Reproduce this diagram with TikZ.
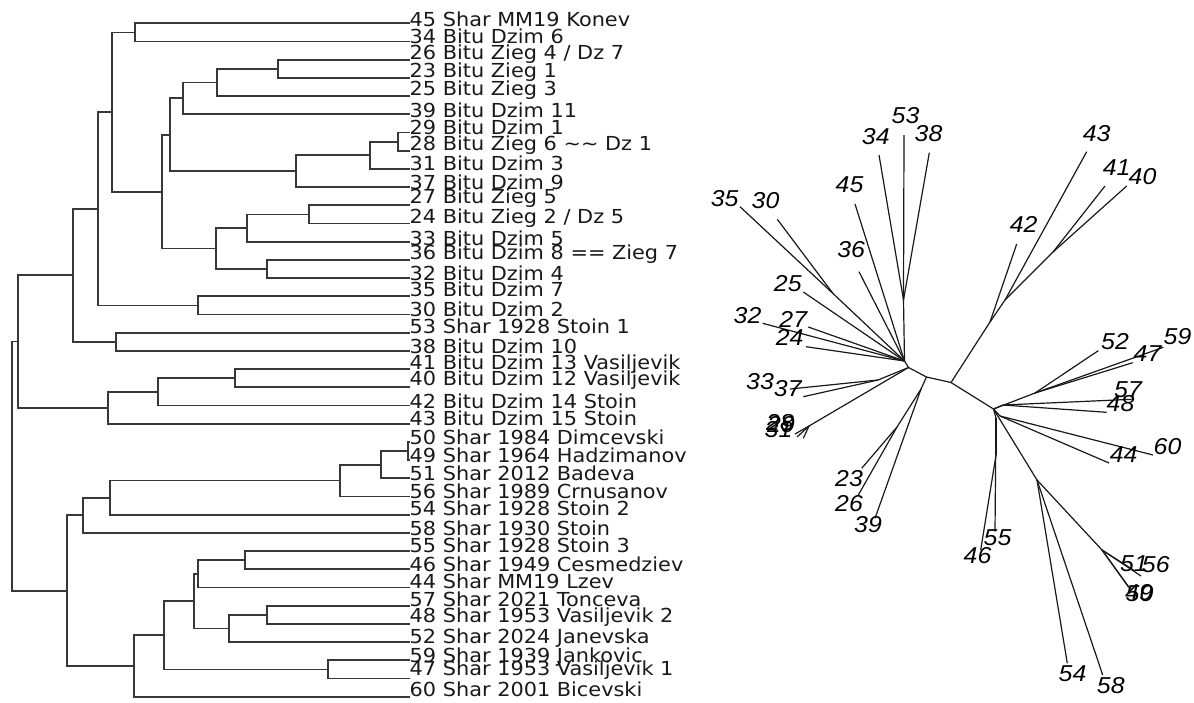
\documentclass[tikz,border=0pt]{standalone}
\usepackage{fontspec}
\usetikzlibrary{calc}
\newfontfamily\labfont[FakeStretch=1.08]{DejaVu Sans}
\newfontfamily\tipfont[FakeStretch=1.08]{Liberation Sans}
\newcommand\dendjoin[4]{%
  \path let \p1=(#3), \p2=(#4) in (#2pt,{(\y1+\y2)/2}) coordinate (#1);
  \draw[dend] (#3) -| (#1) |- (#4);}
\tikzset{
  dend/.style={draw=black!78, line width=1.8pt},
  utree/.style={draw=black!90, line width=1.2pt},
  leaflab/.style={anchor=base west, inner sep=0pt, text=black!90, font=\labfont\fontsize{19.3}{20}\selectfont},
  tiplab/.style={inner sep=0pt, text=black, font=\tipfont\itshape\fontsize{23}{25}\selectfont}
}
\begin{document}
\begin{tikzpicture}[x=1pt,y=-1pt]
\useasboundingbox (0,0) rectangle (1194,702);
% ---------------- dendrogram ----------------
\foreach \i in {1,...,38} { \coordinate (l\i) at (410,{23.3+(\i-1)*18.2}); }
\dendjoin{n1}{135}{l1}{l2}
\dendjoin{n2}{277.7}{l3}{l4}
\dendjoin{n3}{216.7}{n2}{l5}
\dendjoin{n4}{183.3}{n3}{l6}
\dendjoin{n5}{398.3}{l7}{l8}
\dendjoin{n6}{370}{n5}{l9}
\dendjoin{n7}{296}{n6}{l10}
\dendjoin{n8}{170}{n4}{n7}
\dendjoin{n9}{309}{l11}{l12}
\dendjoin{n10}{247.3}{n9}{l13}
\dendjoin{n11}{266.7}{l14}{l15}
\dendjoin{n12}{215.7}{n10}{n11}
\dendjoin{n13}{162.3}{n8}{n12}
\dendjoin{n14}{112.3}{n1}{n13}
\dendjoin{n15}{198.3}{l16}{l17}
\dendjoin{n16}{98.3}{n14}{n15}
\dendjoin{n17}{115.7}{l18}{l19}
\dendjoin{n18}{73.3}{n16}{n17}
\dendjoin{n19}{235}{l20}{l21}
\dendjoin{n20}{157.7}{n19}{l22}
\dendjoin{n21}{107.7}{n20}{l23}
\dendjoin{n22}{18.3}{n18}{n21}
\dendjoin{n23}{408.3}{l24}{l25}
\dendjoin{n24}{381}{n23}{l26}
\dendjoin{n25}{340}{n24}{l27}
\dendjoin{n26}{110}{n25}{l28}
\dendjoin{n27}{83.3}{n26}{l29}
\dendjoin{n28}{245}{l30}{l31}
\dendjoin{n29}{198.3}{n28}{l32}
\dendjoin{n30}{266.7}{l33}{l34}
\dendjoin{n31}{229}{n30}{l35}
\dendjoin{n32}{194.3}{n29}{n31}
\dendjoin{n33}{327.7}{l36}{l37}
\dendjoin{n34}{164.3}{n32}{n33}
\dendjoin{n35}{134.3}{n34}{l38}
\dendjoin{n36}{66.7}{n27}{n35}
\dendjoin{root}{11.7}{n22}{n36}
\foreach \t/\y [count=\k] in {
 {45 Shar MM19 Konev}/19.7,
 {34 Bitu Dzim 6}/36.3,
 {26 Bitu Zieg 4 / Dz 7}/52.7,
 {23 Bitu Zieg 1}/70,
 {25 Bitu Zieg 3}/88.8,
 {39 Bitu Dzim 11}/110,
 {29 Bitu Dzim 1}/127.7,
 {28 Bitu Zieg 6 \textasciitilde\textasciitilde\ Dz 1}/143.7,
 {31 Bitu Dzim 3}/163.7,
 {37 Bitu Dzim 9}/182,
 {27 Bitu Zieg 5}/196,
 {24 Bitu Zieg 2 / Dz 5}/216,
 {33 Bitu Dzim 5}/238,
 {36 Bitu Dzim 8 == Zieg 7}/252,
 {32 Bitu Dzim 4}/273.7,
 {35 Bitu Dzim 7}/289.7,
 {30 Bitu Dzim 2}/309.7,
 {53 Shar 1928 Stoin 1}/326,
 {38 Bitu Dzim 10}/346,
 {41 Bitu Dzim 13 Vasiljevik}/362,
 {40 Bitu Dzim 12 Vasiljevik}/378.8,
 {42 Bitu Dzim 14 Stoin}/401.3,
 {43 Bitu Dzim 15 Stoin}/418.7,
 {50 Shar 1984 Dimcevski}/437,
 {49 Shar 1964 Hadzimanov}/455.5,
 {51 Shar 2012 Badeva}/473,
 {56 Shar 1989 Crnusanov}/491,
 {54 Shar 1928 Stoin 2}/508.8,
 {58 Shar 1930 Stoin}/528,
 {55 Shar 1928 Stoin 3}/545,
 {46 Shar 1949 Cesmedziev}/564.7,
 {44 Shar MM19 Lzev}/581.3,
 {57 Shar 2021 Tonceva}/599.7,
 {48 Shar 1953 Vasiljevik 2}/615.5,
 {52 Shar 2024 Janevska}/636,
 {59 Shar 1939 Jankovic}/655,
 {47 Shar 1953 Vasiljevik 1}/668.8,
 {60 Shar 2001 Bicevski}/689.7}
 { \node[leaflab] (lab\k) at (409.5,{\y+7}) {\t}; }
% ---------------- unrooted tree ----------------
\foreach \n/\x/\y in {A/904.5/361, B/908.5/367.5, Cn/926.5/377, D/951/382.5, E/993.5/409,
  S1/903.5/300, M1/833/293.5, C33/878/380, C29/809/426, C2/921/389, C3/897/427,
  P/990/322, Q/1005/300, R/1053/252, F/1035/393, G/1003/405, H/1000/416,
  V/996/418, W/996/455, J/1037/480, K/1102/550}
  { \coordinate (\n) at (\x,\y); }
\foreach \n/\x/\y in {35/740/206.7, 30/777.3/219.3, 45/855/204, 34/879/155, 53/904/135,
  38/929.3/152.7, 36/859/271.7, 25/803.3/292, 32/762.7/323.3, 27/808.3/327, 24/806/346.7,
  33/790/389, 37/803.3/396.7, 29/795/434, 28/797/437, 31/803.3/438.3,
  23/861.7/468.3, 26/858.3/495, 39/875/518.3, 42/1016.7/244, 43/1086.7/151.7,
  41/1105/186, 40/1126.7/186, 52/1098.3/350.7, 47/1132.7/362.7, 59/1163.3/347.3,
  57/1131.7/399.3, 48/1106.7/412.3, 60/1153/455, 44/1109/463, 55/995/531.7,
  46/980.7/550, 54/1067.3/663.3, 58/1102.7/675, 56/1141/576, 51/1135/571,
  49/1128.3/586.7, 50/1129.5/588}
  { \coordinate (t\n) at (\x,\y); }
\foreach \a/\b in {A/B, B/Cn, Cn/D, D/E,
  A/S1, S1/t53, S1/t34, S1/t38, A/M1, M1/t35, M1/t30,
  A/t45, A/t36, A/t25, A/t32, A/t27, A/t24,
  B/C33, C33/t33, C33/t37, B/C29, C29/t29, C29/t28, C29/t31,
  Cn/C2, C2/t39, C2/C3, C3/t23, C3/t26,
  D/P, P/t42, P/Q, Q/t43, Q/R, R/t41, R/t40,
  E/F, F/t52, F/t47, F/t59, E/G, G/t57, G/t48, E/H, H/t60, H/t44,
  E/V, V/t55, V/W, W/t46, E/J, J/t54, J/t58, J/K, K/t56, K/t51, K/t49, K/t50}
  { \draw[utree] (\a) -- (\b); }
\foreach \n/\x/\y in {35/724.7/198.3, 30/765.5/201, 53/905.5/115.5, 34/875.8/136.3,
  38/928.5/134, 45/849.5/185, 36/851.2/250, 25/787.8/284, 32/747.5/315.3,
  27/793.3/319.5, 24/789.7/337.5, 33/760/382, 37/787.8/388.2,
  28/780/423, 29/781/425, 31/778.5/430,
  23/849/478.3, 26/849/503.3, 39/868/525, 42/1023.7/224, 43/1096.7/133.3,
  41/1116.7/167.5, 40/1142.5/176.3, 52/1115/342, 47/1147.5/354, 59/1177.5/336.7,
  57/1128/389.5, 48/1120.5/403.5, 60/1167.5/446.7, 44/1123.7/454.5,
  55/997.5/537.5, 46/977.5/555.8, 51/1134/564, 56/1155.8/565,
  49/1139/593, 50/1139.5/593.5, 54/1072.5/674, 58/1110.8/685.8}
  { \node[tiplab] (r\n) at (\x,\y) {\n}; }
\end{tikzpicture}
\end{document}
